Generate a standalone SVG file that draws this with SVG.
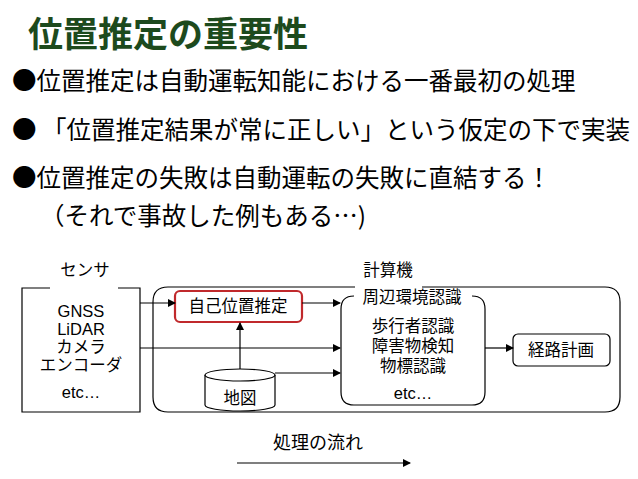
<svg xmlns="http://www.w3.org/2000/svg" width="638" height="479" viewBox="0 0 638 479">
<style>
text{font-family:"Noto Sans CJK JP","Liberation Sans",sans-serif;fill:#000}
.b{font-size:24.5px}
.d{font-size:16.5px;text-anchor:middle;font-family:"Liberation Sans","Noto Sans CJK JP",sans-serif}
.s{fill:#fff;stroke:#000;stroke-width:1.2}
.c{stroke:#000;stroke-width:1.2;fill:none;marker-end:url(#a)}
</style>
<defs><marker id="a" markerWidth="8" markerHeight="8" refX="7" refY="4" orient="auto" markerUnits="userSpaceOnUse"><path d="M0,0L8,4L0,8z" fill="#000"/></marker></defs>
<rect width="638" height="479" fill="#fff"/>
<text x="28" y="47" style="font-size:35px;font-weight:bold;fill:#1d4a1d">位置推定の重要性</text>
<text class="b" x="12" y="90">●位置推定は自動運転知能における一番最初の処理</text>
<text class="b" x="12" y="139">● 「位置推定結果が常に正しい」という仮定の下で実装</text>
<text class="b" x="12" y="187">●位置推定の失敗は自動運転の失敗に直結する！</text>
<text class="b" x="40" y="225">（それで事故した例もある…)</text>
<g id="sensor"><path class="s" d="M50,288H22V412H140V288H118" /><text class="d" x="85" y="276">センサ</text>
<text class="d" x="81" y="317">GNSS</text><text class="d" x="81" y="335">LiDAR</text><text class="d" x="81" y="353">カメラ</text><text class="d" x="81" y="371">エンコーダ</text><text class="d" x="81" y="398">etc…</text></g>
<g id="computer"><path class="s" d="M355,287H168Q153,287 153,302V397Q153,412 168,412H605Q620,412 620,397V302Q620,287 605,287H422"/><text class="d" x="388" y="276">計算機</text></g>
<g id="self"><rect x="175" y="291" width="127" height="31" rx="5" fill="#fff" stroke="#c0292c" stroke-width="2.2"/><text class="d" x="238" y="312">自己位置推定</text></g>
<g id="env"><path class="s" d="M354,296Q341,296 341,309V392Q341,405 354,405H472Q485,405 485,392V309Q485,296 472,296"/><text class="d" x="412" y="303">周辺環境認識</text>
<text class="d" x="413" y="332">歩行者認識</text><text class="d" x="413" y="352">障害物検知</text><text class="d" x="413" y="372">物標認識</text><text class="d" x="413" y="399">etc…</text></g>
<g id="plan"><rect class="s" x="513" y="334" width="97" height="32" rx="5"/><text class="d" x="561" y="356">経路計画</text></g>
<g id="map"><path class="s" d="M205,375V405A35,6 0 0 0 275,405V375"/><ellipse class="s" cx="240" cy="375" rx="35" ry="6"/><text class="d" x="240" y="404">地図</text></g>
<g id="connectors">
<line class="c" x1="140" y1="303" x2="175" y2="303"/>
<line class="c" x1="302" y1="303" x2="340" y2="303"/>
<line class="c" x1="140" y1="348" x2="340" y2="348"/>
<line class="c" x1="275" y1="373" x2="340" y2="373"/>
<line class="c" x1="240" y1="369" x2="240" y2="323"/>
<line class="c" x1="485" y1="348" x2="513" y2="348"/>
<line class="c" x1="237" y1="463" x2="410" y2="463"/>
</g>
<text class="d" x="318" y="449" style="font-size:18px">処理の流れ</text>
</svg>
